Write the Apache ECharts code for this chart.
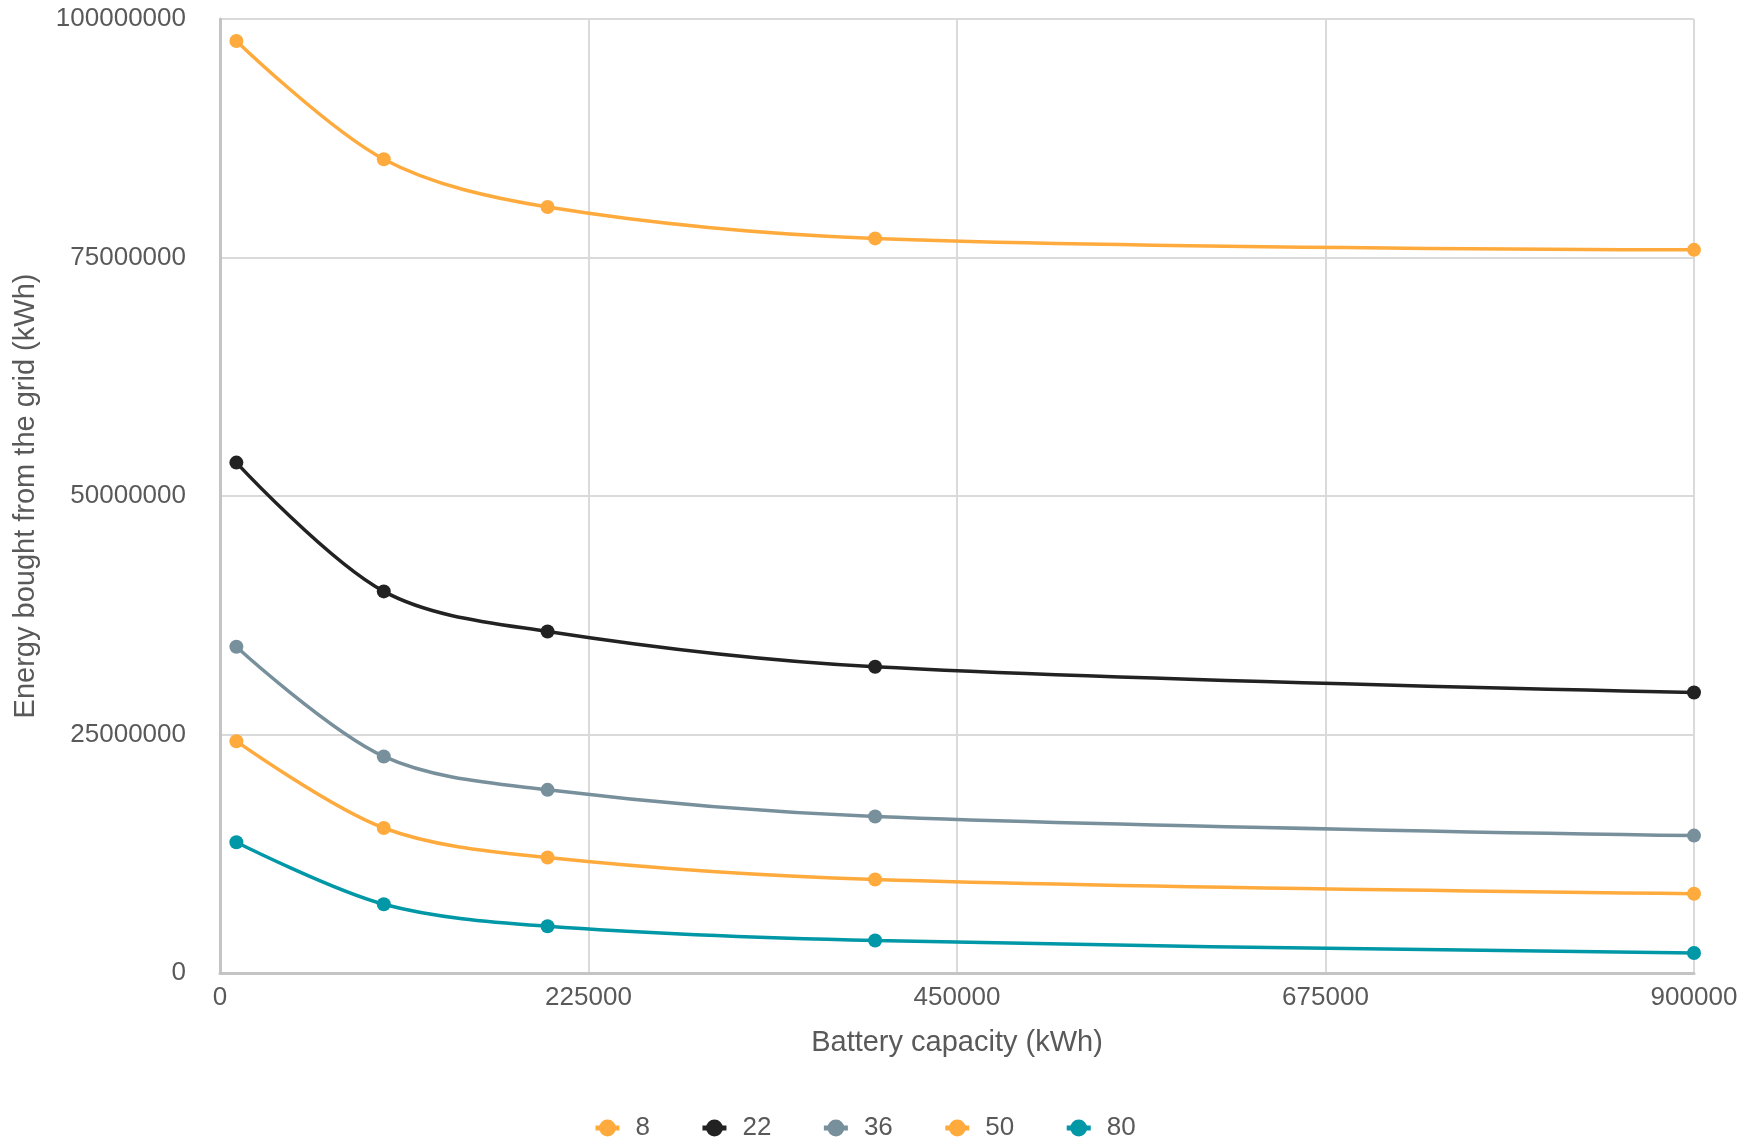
<!DOCTYPE html>
<html>
<head>
<meta charset="utf-8">
<style>
  html, body { margin: 0; padding: 0; background: #ffffff; }
  #chart { width: 1752px; height: 1140px; }
</style>
<script src="https://cdn.jsdelivr.net/npm/echarts@6/dist/echarts.min.js"></script>
</head>
<body>
<div id="chart"></div>
<script>
// Battery capacity (kWh) at which each scenario was evaluated
const capacities = [10000, 100000, 200000, 400000, 900000];

// Energy bought from the grid (kWh), one list per scenario
const series8  = [97700000, 85300000, 80300000, 77000000, 75800000];
const series22 = [53500000, 40000000, 35800000, 32100000, 29400000];
const series36 = [34200000, 22700000, 19200000, 16400000, 14400000];
const series50 = [24300000, 15200000, 12100000,  9800000,  8300000];
const series80 = [13700000,  7200000,  4900000,  3400000,  2100000];

const seriesNames = ['8', '22', '36', '50', '80'];
const seriesValues = [series8, series22, series36, series50, series80];
const seriesColors = ['#ffaa3d', '#222222', '#78909c', '#ffaa3d', '#0097a7'];

// Axis ticks
const xTicks = [0, 225000, 450000, 675000, 900000];
const yTicks = [0, 25000000, 50000000, 75000000, 100000000];

const FONT = '"Liberation Sans", Arial, sans-serif';
const TEXT = '#595959';

const chart = echarts.init(document.getElementById('chart'), null, { renderer: 'canvas' });

chart.setOption({
  backgroundColor: '#ffffff',
  animation: false,
  grid: { left: 220, right: 58, top: 19, bottom: 167, containLabel: false },
  legend: {
    data: seriesNames,
    top: 1110,
    left: 588,
    itemWidth: 24,
    itemHeight: 21,
    itemGap: 50,
    lineStyle: { width: 5 },
    textStyle: { fontFamily: FONT, fontSize: 26, color: TEXT, padding: [0, 0, 0, 11] }
  },
  xAxis: {
    type: 'value',
    min: xTicks[0],
    max: xTicks[xTicks.length - 1],
    interval: xTicks[1] - xTicks[0],
    name: 'Battery capacity (kWh)',
    nameLocation: 'middle',
    nameGap: 55,
    nameTextStyle: { fontFamily: FONT, fontSize: 29, color: TEXT },
    axisLine: { show: true, lineStyle: { color: '#c4c4c4', width: 3 } },
    axisTick: { show: false },
    axisLabel: { fontFamily: FONT, fontSize: 26, color: TEXT, margin: 12, formatter: v => String(v) },
    splitLine: { show: true, lineStyle: { color: '#dadada', width: 2 } }
  },
  yAxis: {
    type: 'value',
    min: yTicks[0],
    max: yTicks[yTicks.length - 1],
    interval: yTicks[1] - yTicks[0],
    name: 'Energy bought from the grid (kWh)',
    nameLocation: 'middle',
    nameGap: 180,
    nameTextStyle: { fontFamily: FONT, fontSize: 29, color: TEXT },
    axisLine: { show: true, lineStyle: { color: '#c4c4c4', width: 3 } },
    axisTick: { show: false },
    axisLabel: { fontFamily: FONT, fontSize: 26, color: TEXT, margin: 34, formatter: v => String(v) },
    splitLine: { show: true, lineStyle: { color: '#dadada', width: 2 } }
  },
  series: seriesNames.map((name, i) => ({
    name: name,
    type: 'line',
    smooth: 0.33,
    symbol: 'circle',
    symbolSize: 14,
    showSymbol: true,
    color: seriesColors[i],
    lineStyle: { width: 3.5, color: seriesColors[i] },
    itemStyle: { color: seriesColors[i] },
    data: capacities.map((c, j) => [c, seriesValues[i][j]])
  }))
});
</script>
</body>
</html>
